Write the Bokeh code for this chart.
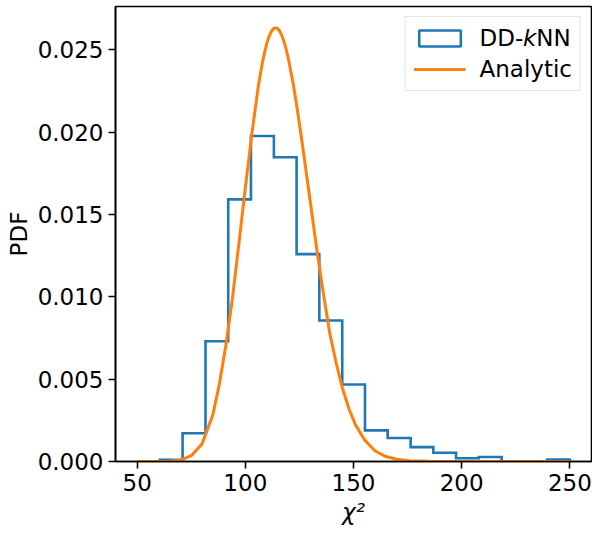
from bokeh.plotting import figure
from bokeh.models import (Range1d, Legend, LegendItem, ColumnDataSource, FixedTicker,
                          CDSView, BooleanFilter)
from bokeh.embed import file_html
from bokeh.resources import INLINE

# ---- data ----
bin_edges = [60.5, 71.0, 81.6, 92.1, 102.6, 113.2, 123.7, 134.2, 144.8, 155.3,
             165.8, 176.4, 186.9, 197.4, 207.9, 218.5, 229.0, 239.5, 250.0]
bin_density = [0.00010, 0.00172, 0.00730, 0.01592, 0.01977, 0.01848, 0.01259,
               0.00856, 0.00468, 0.00189, 0.00143, 0.00087, 0.00053, 0.00020,
               0.00027, 0.0, 0.0, 0.00010]

analytic_x = [50, 55, 60, 65, 70, 75, 80, 85, 88, 91, 94, 97, 100, 103, 106, 107,
              108, 109, 110, 111, 112, 113, 114, 115, 116, 117, 118, 119, 120,
              121, 122, 124, 126, 128, 130, 133, 136, 139, 142, 145, 148, 151,
              155, 160, 165, 170, 176, 185, 195, 210, 230, 250]
analytic_y = [0.0, 0.0000003, 0.000002, 0.000015, 0.00008, 0.00035, 0.00107,
              0.00284, 0.00470, 0.00705, 0.00985, 0.01320, 0.01660, 0.01988,
              0.02278, 0.02355, 0.02430, 0.02489, 0.02542, 0.02582, 0.02611,
              0.02628, 0.02634, 0.02628, 0.02611, 0.02583, 0.02545, 0.02497,
              0.02440, 0.02370, 0.02303, 0.02141, 0.01960, 0.01770, 0.01580,
              0.01290, 0.01027, 0.00780, 0.00598, 0.00440, 0.00316, 0.00221,
              0.00133, 0.00064, 0.00030, 0.00014, 0.00005, 0.00001, 0.000002,
              0.0, 0.0, 0.0]

x_ticks = [50, 100, 150, 200, 250]
y_ticks = [0.000, 0.005, 0.010, 0.015, 0.020, 0.025]

BLUE = "#1f77b4"
ORANGE = "#ff7f0e"
FONT = "DejaVu Sans"
FS = "23px"

# step outline of the histogram built from the edges and densities
step_x = [bin_edges[0]]
step_y = [0.0]
for i, h in enumerate(bin_density):
    step_x += [bin_edges[i], bin_edges[i + 1]]
    step_y += [h, h]
step_x.append(bin_edges[-1])
step_y.append(0.0)

p = figure(width=592, height=534, output_backend="svg", toolbar_location=None,
           x_range=Range1d(40, 260), y_range=Range1d(0, 0.02763),
           min_border_left=115, min_border_right=1, min_border_top=6,
           min_border_bottom=73)

p.xgrid.visible = False
p.ygrid.visible = False
p.outline_line_color = "black"
p.outline_line_width = 1.6
p.background_fill_color = "white"
p.border_fill_color = "white"

# histogram bars: only the last (tiny) bar is drawn as a quad, which coincides
# with the step outline; this renderer gives the legend its outlined swatch
n_bins = len(bin_density)
bars_src = ColumnDataSource(dict(left=bin_edges[:-1], right=bin_edges[1:],
                                 top=bin_density, bottom=[0.0] * n_bins))
bars = p.quad(left="left", right="right", top="top", bottom="bottom",
              source=bars_src,
              view=CDSView(filter=BooleanFilter([i == n_bins - 1 for i in range(n_bins)])),
              fill_color=None, line_color=BLUE, line_width=2.6)

hist_src = ColumnDataSource(dict(x=step_x, y=step_y))
p.line("x", "y", source=hist_src, line_color=BLUE, line_width=2.6,
       line_join="miter")

curve = p.line(analytic_x, analytic_y, line_color=ORANGE, line_width=3,
               line_join="round")

for ax in (p.xaxis[0], p.yaxis[0]):
    ax.axis_line_color = "black"
    ax.axis_line_width = 1.6
    ax.major_tick_line_color = "black"
    ax.major_tick_line_width = 1.6
    ax.major_tick_out = 7
    ax.major_tick_in = 0
    ax.minor_tick_out = 0
    ax.minor_tick_in = 0
    ax.major_label_text_font = FONT
    ax.major_label_text_font_size = FS
    ax.major_label_text_color = "black"
    ax.major_label_standoff = 5
    ax.axis_label_text_font = FONT
    ax.axis_label_text_font_size = FS
    ax.axis_label_text_color = "black"
    ax.axis_label_text_font_style = "normal"

p.xaxis[0].ticker = FixedTicker(ticks=x_ticks)
p.yaxis[0].ticker = FixedTicker(ticks=y_ticks)
p.xaxis[0].major_label_overrides = {t: str(t) for t in x_ticks}
p.yaxis[0].major_label_overrides = {t: f"{t:.3f}" for t in y_ticks}
p.xaxis[0].axis_label = "\u03c7\u00b2"
p.xaxis[0].axis_label_text_font_style = "italic"
p.xaxis[0].axis_label_standoff = 5
p.yaxis[0].axis_label = "PDF"
p.yaxis[0].axis_label_standoff = 3

legend = Legend(items=[LegendItem(label="DD-\U0001D62CNN", renderers=[bars]),
                       LegendItem(label="Analytic", renderers=[curve])],
                location="top_right")
legend.margin = 10
legend.padding = 8
legend.spacing = 5
legend.glyph_width = 52
legend.glyph_height = 20
legend.label_height = 23
legend.label_standoff = 14
legend.label_text_font = FONT
legend.label_text_font_size = FS
legend.label_text_color = "black"
legend.border_line_color = "#cccccc"
legend.border_line_width = 1.6
legend.background_fill_color = "white"
legend.background_fill_alpha = 0.8
p.add_layout(legend)

open("out.html", "w").write(file_html(p, INLINE))
